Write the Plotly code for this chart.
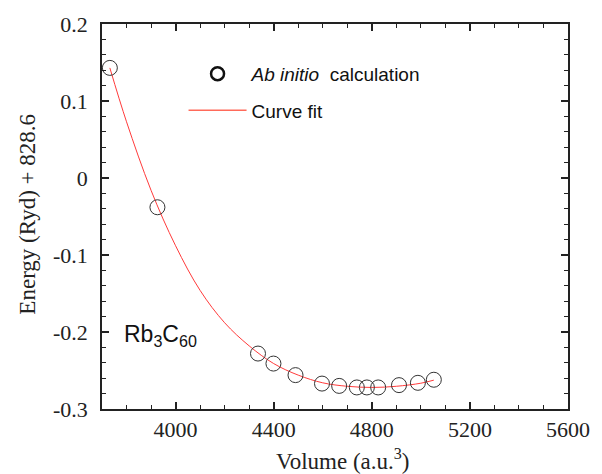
import plotly.graph_objects as go

# Ab initio data points (volume a.u.^3, energy Ryd + 828.6)
vol_pts = [3732, 3926, 4336, 4399, 4489, 4597, 4667, 4739, 4780, 4826, 4911, 4988, 5053]
en_pts = [0.143, -0.038, -0.228, -0.241, -0.256, -0.267, -0.270, -0.272, -0.272, -0.272, -0.269, -0.266, -0.262]

# Curve fit
vol_fit = [3732, 3800, 3900, 4000, 4100, 4200, 4300, 4400, 4500, 4600, 4700, 4800, 4900, 5000, 5053]
en_fit = [0.143, 0.073, -0.016, -0.088, -0.146, -0.188, -0.218, -0.241, -0.256, -0.266, -0.2705, -0.272, -0.2705, -0.2665, -0.2625]

x_ticks = [4000, 4400, 4800, 5200, 5600]
y_ticks = [-0.3, -0.2, -0.1, 0, 0.1, 0.2]
y_ticklabels = ["-0.3", "-0.2", "-0.1", "0", "0.1", "0.2"]
x_range = [3700, 5600]
y_range = [-0.3, 0.2]

serif = "Liberation Serif"
sans = "Liberation Sans"

fig = go.Figure()
fig.add_trace(go.Scatter(x=vol_fit, y=en_fit, mode="lines", line=dict(color="#ff3b3b", width=1, shape="spline"),
                         showlegend=False, hoverinfo="skip"))
fig.add_trace(go.Scatter(x=vol_pts, y=en_pts, mode="markers",
                         marker=dict(symbol="circle-open", size=15, color="#333333", line=dict(width=1, color="#333333")),
                         showlegend=False))
# legend entries
fig.add_trace(go.Scatter(x=[None], y=[None], mode="markers", name="<i>Ab initio</i>  calculation", legendgroup="a",
                         marker=dict(symbol="circle-open", size=13, color="#111111", line=dict(width=2.5, color="#111111"))))
fig.add_trace(go.Scatter(x=[None], y=[None], mode="lines", name="Curve fit", legendgroup="b",
                         line=dict(color="#ff6a5a", width=1.5)))
# invisible trace to carry the minor-tick axes
fig.add_trace(go.Scatter(x=[None], y=[None], xaxis="x2", yaxis="y2", showlegend=False, hoverinfo="skip"))

tickfont = dict(family=serif, size=22, color="#222222")
axis_common = dict(showline=True, linecolor="#222222", linewidth=1.5, mirror="allticks", ticks="inside",
                   ticklen=7, tickwidth=1.5, tickcolor="#222222", showgrid=False, zeroline=False)
minor_common = dict(showline=False, ticks="inside", ticklen=4, tickwidth=1.2, tickcolor="#222222",
                    mirror="allticks", showgrid=False, zeroline=False, showticklabels=False)

fig.update_layout(
    width=602, height=474,
    margin=dict(l=102, r=30, t=18, b=65),
    plot_bgcolor="white", paper_bgcolor="white",
    font=dict(family=serif, color="#222222", size=22),
    xaxis=dict(range=x_range, tickmode="array", tickvals=x_ticks, ticktext=[str(v) for v in x_ticks],
               tickfont=tickfont, **axis_common),
    yaxis=dict(range=y_range, tickmode="array", tickvals=y_ticks, ticktext=y_ticklabels, ticklabelstandoff=8,
               tickfont=tickfont, **axis_common),
    xaxis2=dict(range=x_range, overlaying="x", anchor="y2", side="bottom", dtick=100, tick0=3700, **minor_common),
    yaxis2=dict(range=y_range, overlaying="y", anchor="x2", side="left", dtick=0.02, tick0=-0.3, **minor_common),
    legend=dict(x=0.175, y=0.92, xanchor="left", yanchor="top", traceorder="grouped", tracegroupgap=9,
                itemwidth=58,
                font=dict(family=sans, size=19, color="#111111"), bgcolor="rgba(0,0,0,0)"),
)

# axis titles
fig.add_annotation(x=0.517, y=-0.13, xref="paper", yref="paper", xanchor="center", yanchor="middle",
                   text="Volume (a.u.<sup>3</sup>)", showarrow=False,
                   font=dict(family=serif, size=23, color="#222222"))
fig.add_annotation(x=-0.16, y=0.506, xref="paper", yref="paper", xanchor="center", yanchor="middle",
                   text="Energy (Ryd) + 828.6", showarrow=False, textangle=-90,
                   font=dict(family=serif, size=23, color="#222222"))

fig.add_annotation(x=0.043, y=0.19, xref="paper", yref="paper", xanchor="left", yanchor="middle",
                   text="Rb<sub>3</sub>C<sub>60</sub>", showarrow=False,
                   font=dict(family=sans, size=23, color="#111111"))

fig.write_html("out.html")
